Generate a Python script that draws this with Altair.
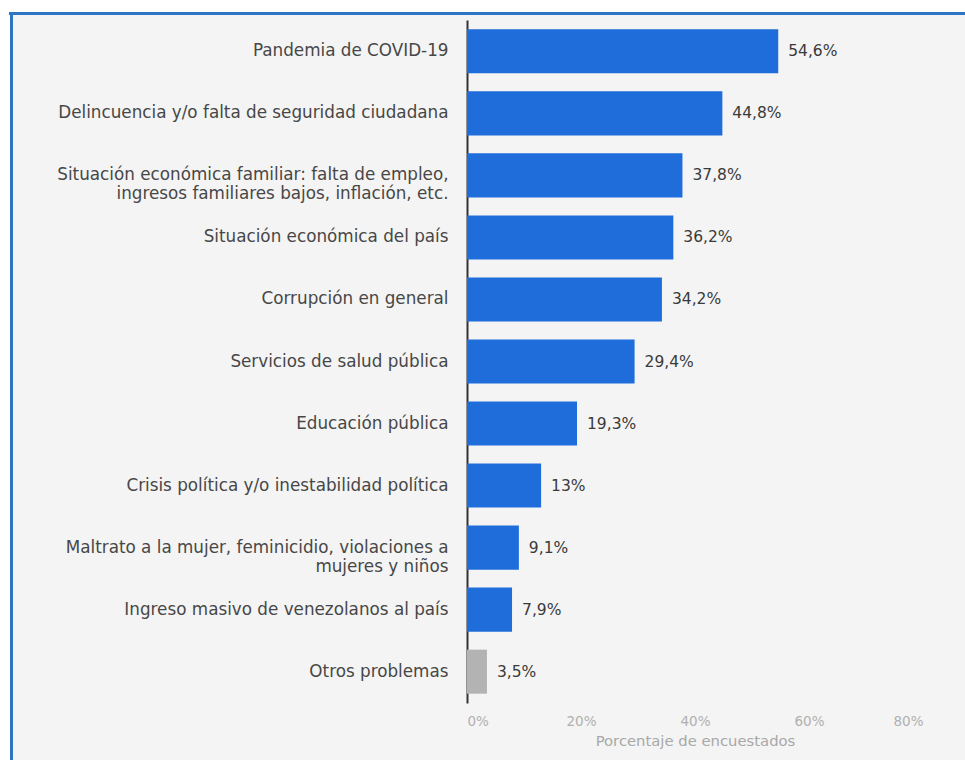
import altair as alt
import pandas as pd

categories = [
    "Pandemia de COVID-19",
    "Delincuencia y/o falta de seguridad ciudadana",
    "Situación económica familiar: falta de empleo,\ningresos familiares bajos, inflación, etc.",
    "Situación económica del país",
    "Corrupción en general",
    "Servicios de salud pública",
    "Educación pública",
    "Crisis política y/o inestabilidad política",
    "Maltrato a la mujer, feminicidio, violaciones a\nmujeres y niños",
    "Ingreso masivo de venezolanos al país",
    "Otros problemas",
]
values = [54.6, 44.8, 37.8, 36.2, 34.2, 29.4, 19.3, 13, 9.1, 7.9, 3.5]
groups = ["main"] * 10 + ["other"]
x_ticks = [0, 20, 40, 60, 80]

df = pd.DataFrame({"cat": categories, "val": values, "grp": groups})
df["label"] = [(f"{v:g}".replace(".", ",")) + "%" for v in values]

W, H = 456, 683
PAD = {"left": 467, "top": 20, "right": 42, "bottom": 57}
FONT = "DejaVu Sans"

y_enc = alt.Y(
    "cat:N",
    sort=categories,
    scale=alt.Scale(paddingInner=0.29, paddingOuter=0.15),
    axis=alt.Axis(
        title=None,
        ticks=False,
        domainColor="#333333",
        domainWidth=2,
        labelFont=FONT,
        labelFontSize=16.8,
        labelColor="#474747",
        labelPadding=19,
        labelLimit=500,
        labelLineHeight=19,
        labelExpr="split(datum.label, '\\n')",
    ),
)
x_enc = alt.X(
    "val:Q",
    scale=alt.Scale(domain=[0, 80], nice=False),
    axis=alt.Axis(
        values=x_ticks,
        title="Porcentaje de encuestados",
        titleFont=FONT,
        titleFontSize=14.8,
        titleFontWeight="normal",
        titleColor="#a8a8a8",
        titlePadding=6,
        labelFont=FONT,
        labelFontSize=13.5,
        labelColor="#b0b0b0",
        labelPadding=11,
        labelFlush=True,
        labelExpr="datum.value + '%'",
        domain=False,
        ticks=False,
        grid=False,
    ),
)

base = alt.Chart(df)
one = "datum.grp == 'other'"

white_top = base.mark_rect(color="white").encode(
    x=alt.value(-470), x2=alt.value(500), y=alt.value(-25), y2=alt.value(-8)
).transform_filter(one)
white_left = base.mark_rect(color="white").encode(
    x=alt.value(-470), x2=alt.value(-457), y=alt.value(-25), y2=alt.value(745)
).transform_filter(one)

frame_top = base.mark_rule(color="#2e75c5", strokeWidth=3).encode(
    x=alt.value(-458), x2=alt.value(500), y=alt.value(-6.5)
).transform_filter(one)
frame_left = base.mark_rule(color="#2e75c5", strokeWidth=3).encode(
    x=alt.value(-455.5), y=alt.value(-8), y2=alt.value(745)
).transform_filter(one)

bars = base.mark_bar().encode(
    x=x_enc,
    y=y_enc,
    color=alt.Color(
        "grp:N",
        scale=alt.Scale(domain=["main", "other"], range=["#1f6ddb", "#b3b3b3"]),
        legend=None,
    ),
)

texts = base.mark_text(
    align="left", baseline="middle", dx=10, font=FONT, fontSize=15.5, color="#3a3a3a"
).encode(x="val:Q", y=alt.Y("cat:N", sort=categories), text="label:N")

chart = (
    alt.layer(bars, texts, white_top, white_left, frame_top, frame_left)
    .properties(width=W, height=H, padding=PAD, autosize="none", background="#f4f4f4")
    .configure_view(stroke=None)
)

chart.save("out.html", embed_options={"renderer": "svg", "actions": False})
